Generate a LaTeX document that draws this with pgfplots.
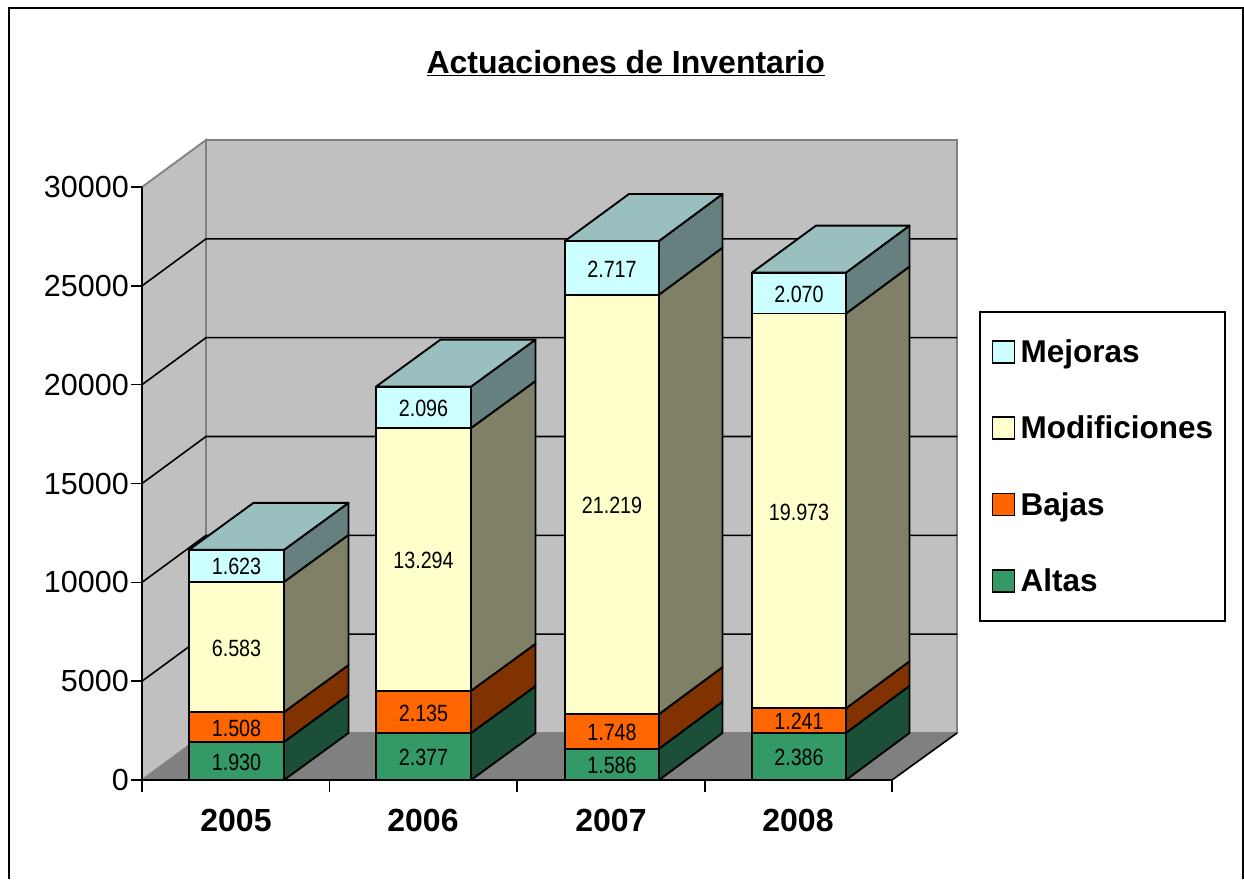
\documentclass[border=0pt]{standalone}
\usepackage{fontspec}
\setmainfont{Liberation Sans}
\newfontfamily\narrowf[FakeStretch=0.84]{Liberation Sans}
\usepackage{pgfplots}
\pgfplotsset{compat=1.18}
\definecolor{altaF}{HTML}{339966}\definecolor{altaS}{HTML}{1C4F37}
\definecolor{bajaF}{HTML}{FF6600}\definecolor{bajaS}{HTML}{803300}
\definecolor{modiF}{HTML}{FFFFCC}\definecolor{modiS}{HTML}{808066}
\definecolor{mejoF}{HTML}{CCFFFF}\definecolor{mejoS}{HTML}{668080}\definecolor{mejoT}{HTML}{99BFBF}
\definecolor{wall}{HTML}{C0C0C0}\definecolor{floorc}{HTML}{808080}
% #1 xl, #2 xr, #3 xr+depth, #4 y0, #5 y1, #6 y0+depth, #7 y1+depth, #8 front, #9 side
\newcommand{\seg}[9]{%
 \addplot[forget plot,draw=black,line width=1.9pt,fill=#9,line join=round] coordinates {(#2,#4)(#3,#6)(#3,#7)(#2,#5)} --cycle;
 \addplot[forget plot,draw=black,line width=1.9pt,fill=#8,line join=round] coordinates {(#1,#4)(#2,#4)(#2,#5)(#1,#5)} --cycle;
}
% #1 xl, #2 xr, #3 xl+depth, #4 xr+depth, #5 y, #6 y+depth
\newcommand{\topf}[6]{%
 \addplot[forget plot,draw=black,line width=1.9pt,fill=mejoT,line join=round] coordinates {(#1,#5)(#2,#5)(#4,#6)(#3,#6)} --cycle;
}
\newcommand{\lab}[3]{\node[font=\narrowf\fontsize{23.5}{26}\selectfont,inner sep=0pt,yshift=-1pt] at (axis cs:#1,#2) {#3};}
\newcommand{\grid}[2]{%
 \addplot[forget plot,black,line width=1.6pt] coordinates {(142,#1)(206,#2)(957,#2)};
}
\begin{document}
\begin{tikzpicture}
\useasboundingbox (0,0) rectangle (1244pt,-879pt);
\fill[white] (0,0) rectangle (1244pt,-879pt);
\draw[black,line width=2pt] (9pt,-879pt) -- (9pt,-8pt) -- (1243pt,-8pt) -- (1243pt,-879pt);
\begin{axis}[
  at={(142pt,-780pt)},anchor=south west,
  scale only axis,width=750pt,height=593pt,
  xmin=142,xmax=892,ymin=0,ymax=30000,
  clip=false,
  axis lines=left,
  axis line style={-,black,line width=1.6pt},
  axis on top,
  tick align=outside,
  tick style={black,line width=1.6pt},
  ytick={0,5000,10000,15000,20000,25000,30000},
  scaled y ticks=false,
  major tick length=11pt,
  xtick={236,423,611,798},
  xticklabels={2005,2006,2007,2008},
  minor xtick={142,329.5,517,705,892},
  x tick style={draw=none},
  minor x tick style={draw=black,line width=1.6pt},
  minor tick length=12pt,
  /pgf/number format/fixed,
  /pgf/number format/1000 sep={},
  /pgf/number format/assume math mode=true,
  y tick label style={font=\fontsize{30.5}{36}\selectfont,inner sep=0pt,xshift=-2pt},
  x tick label style={font=\bfseries\fontsize{32}{36}\selectfont,inner sep=0pt,yshift=-18pt},
  title={\underline{Actuaciones de Inventario}},
  title style={at={(0.645,1.199)},anchor=center,font=\bfseries\fontsize{32}{36}\selectfont,inner sep=0pt},
  legend style={at={(1.116,0.791)},anchor=north west,draw=black,line width=1.6pt,
    font=\bfseries\fontsize{31.5}{36}\selectfont,fill=white,
    inner xsep=12pt,inner ysep=28pt,
    nodes={inner sep=0pt,anchor=west},
    /tikz/row sep=52pt},
  legend cell align=left,
  legend image code/.code={\path[draw=none,fill=none] (0pt,0pt) -- (28pt,0pt);\draw[#1,line width=1.6pt] (0pt,-11pt) rectangle (22pt,11pt);},
]
\addlegendimage{fill=mejoF,draw=black}\addlegendentry{Mejoras}
\addlegendimage{fill=modiF,draw=black}\addlegendentry{Modificiones}
\addlegendimage{fill=bajaF,draw=black}\addlegendentry{Bajas}
\addlegendimage{fill=altaF,draw=black}\addlegendentry{Altas}
% walls and floor
\addplot[forget plot,draw=floorc,line width=1.8pt,fill=wall] coordinates {(206,2378)(957,2378)(957,32378)(206,32378)} --cycle;
\addplot[forget plot,draw=floorc,line width=1.8pt,fill=wall] coordinates {(142,0)(206,2378)(206,32378)(142,30000)} --cycle;
\addplot[forget plot,draw=floorc,line width=1.2pt,fill=floorc] coordinates {(142,0)(892,0)(957,2378)(206,2378)} --cycle;
\addplot[forget plot,black,line width=1.6pt] coordinates {(892,0)(957,2378)};
\grid{5000}{7378}\grid{10000}{12378}\grid{15000}{17378}\grid{20000}{22378}\grid{25000}{27378}
% 2005: 1930 1508 6583 1623
\seg{189}{284}{348.5}{0}{1930}{2378}{4308}{altaF}{altaS}
\seg{189}{284}{348.5}{1930}{3438}{4308}{5816}{bajaF}{bajaS}
\seg{189}{284}{348.5}{3438}{10021}{5816}{12399}{modiF}{modiS}
\seg{189}{284}{348.5}{10021}{11644}{12399}{14022}{mejoF}{mejoS}
\topf{189}{284}{253.5}{348.5}{11644}{14022}
% 2006: 2377 2135 13294 2096
\seg{376}{471}{535.5}{0}{2377}{2378}{4755}{altaF}{altaS}
\seg{376}{471}{535.5}{2377}{4512}{4755}{6890}{bajaF}{bajaS}
\seg{376}{471}{535.5}{4512}{17806}{6890}{20184}{modiF}{modiS}
\seg{376}{471}{535.5}{17806}{19902}{20184}{22280}{mejoF}{mejoS}
\topf{376}{471}{440.5}{535.5}{19902}{22280}
% 2007: 1586 1748 21219 2717
\seg{565}{659}{722.5}{0}{1586}{2378}{3964}{altaF}{altaS}
\seg{565}{659}{722.5}{1586}{3334}{3964}{5712}{bajaF}{bajaS}
\seg{565}{659}{722.5}{3334}{24553}{5712}{26931}{modiF}{modiS}
\seg{565}{659}{722.5}{24553}{27270}{26931}{29648}{mejoF}{mejoS}
\topf{565}{659}{629}{722.5}{27270}{29648}
% 2008: 2386 1241 19973 2070
\seg{752}{846}{909.5}{0}{2386}{2378}{4764}{altaF}{altaS}
\seg{752}{846}{909.5}{2386}{3627}{4764}{6005}{bajaF}{bajaS}
\seg{752}{846}{909.5}{3627}{23600}{6005}{25978}{modiF}{modiS}
\seg{752}{846}{909.5}{23600}{25670}{25978}{28048}{mejoF}{mejoS}
\topf{752}{846}{816}{909.5}{25670}{28048}
% value labels
\lab{236.5}{965}{1.930}\lab{236.5}{2684}{1.508}\lab{236.5}{6730}{6.583}\lab{236.5}{10832}{1.623}
\lab{423.5}{1188}{2.377}\lab{423.5}{3444}{2.135}\lab{423.5}{11159}{13.294}\lab{423.5}{18854}{2.096}
\lab{612}{793}{1.586}\lab{612}{2460}{1.748}\lab{612}{13943}{21.219}\lab{612}{25911}{2.717}
\lab{799}{1193}{2.386}\lab{799}{3006}{1.241}\lab{799}{13613}{19.973}\lab{799}{24635}{2.070}
\end{axis}
\end{tikzpicture}
\end{document}
